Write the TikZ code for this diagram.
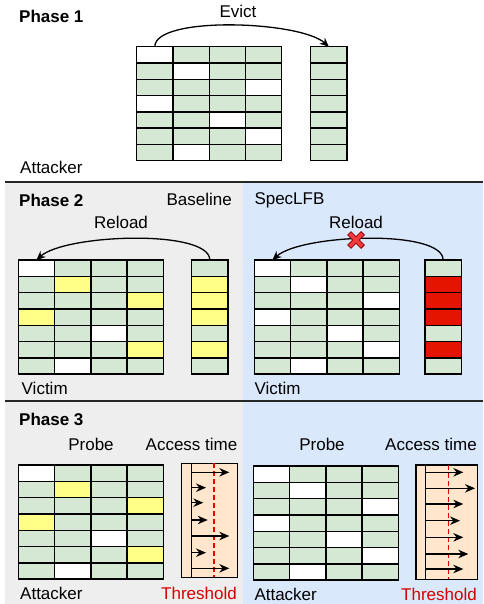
\documentclass[tikz,border=0pt]{standalone}
\usepackage{fontspec}
\setmainfont{Liberation Sans}
\usetikzlibrary{arrows.meta}
\definecolor{cg}{HTML}{D5E8D4}
\definecolor{cw}{HTML}{FFFFFF}
\definecolor{cy}{HTML}{FFFF88}
\definecolor{cr}{HTML}{E51400}
\definecolor{bggray}{HTML}{EEEEEE}
\definecolor{bgblue}{HTML}{DAE8FC}
\definecolor{peach}{HTML}{FFE6CC}
\definecolor{thr}{HTML}{D40000}
\definecolor{xred}{HTML}{F23A3A}
\definecolor{xdark}{HTML}{9A1010}
\tikzset{
  cell/.style={draw=black, line width=1.4pt, rectangle, minimum width=36.25pt,
    minimum height=16.3pt, inner sep=0pt, outer sep=0pt, anchor=north west},
  lbl/.style={font=\fontsize{17}{20}\selectfont, inner sep=0pt, anchor=base west},
  lblc/.style={lbl, anchor=base},
  ttl/.style={lbl, font=\fontsize{17}{20}\selectfont\bfseries},
  arr/.style={draw=black, line width=1.3pt, -{Stealth[length=9pt,width=8pt]}},
  tarr/.style={draw=black, line width=1.3pt, -{Stealth[length=10pt,width=8.5pt]}},
  accbox/.style={draw=black, line width=1.4pt, fill=peach, rectangle, inner sep=0pt,
    outer sep=0pt, anchor=north west},
  sep/.style={draw=black!85, line width=1.5pt},
  thrline/.style={draw=red!90!black, line width=1.3pt, dash pattern=on 5pt off 3pt},
}
\newcommand{\mygrid}[4]{%
  \foreach \cols [count=\r] in {#4} {
    \foreach \cc [count=\c] in \cols {
      \node[cell, fill=\cc] (#1-\r-\c) at ({#2+(\c-1)*36.25},{#3+(\r-1)*16.3}) {};
    }
  }
}
\begin{document}
\begin{tikzpicture}[x=1pt,y=-1pt]
\useasboundingbox (0,0) rectangle (483,604);
% backgrounds
\fill[white] (0,0) rectangle (483,604);
\fill[bggray] (5,182) rectangle (243,604);
\fill[bgblue] (243,182) rectangle (483,604);
\draw[sep] (5,182) -- (483,182);
\draw[sep] (5,401) -- (483,401);

% ---------- Phase 1 ----------
\node[ttl] (t1) at (19,22.7) {Phase 1};
\mygrid{pa}{136.7}{46.7}{{cw,cg,cg,cg},{cg,cw,cg,cg},{cg,cg,cg,cw},{cw,cg,cg,cg},{cg,cg,cw,cg},{cg,cg,cg,cw},{cg,cw,cg,cg}}
\mygrid{pac}{310.7}{46.7}{{cg},{cg},{cg},{cg},{cg},{cg},{cg}}
\draw[arr] (pa-1-1.north) .. controls +(0,-31) and +(-29,-26) .. (pac-1-1.north);
\node[lblc] (evict) at (238,18) {Evict};
\node[lbl] (att1) at (20,173.5) {Attacker};

% ---------- Phase 2 ----------
\node[ttl] (t2) at (19,206) {Phase 2};
\node[lbl, anchor=base east] (base) at (232,205) {Baseline};
\node[lbl] (spec) at (254.3,204) {SpecLFB};
\mygrid{pb}{18.3}{260}{{cw,cg,cg,cg},{cg,cy,cg,cg},{cg,cg,cg,cy},{cy,cg,cg,cg},{cg,cg,cw,cg},{cg,cg,cg,cy},{cg,cw,cg,cg}}
\mygrid{pbc}{191.7}{260}{{cg},{cy},{cy},{cy},{cg},{cy},{cg}}
\draw[arr] (pbc-1-1.north) .. controls +(0,-31) and +(29,-26) .. (pb-1-1.north);
\node[lblc] (rel1) at (121,228.3) {Reload};
\node[lbl] (vic1) at (21.5,394) {Victim};

\mygrid{pr}{254.3}{260}{{cw,cg,cg,cg},{cg,cw,cg,cg},{cg,cg,cg,cw},{cw,cg,cg,cg},{cg,cg,cw,cg},{cg,cg,cg,cw},{cg,cw,cg,cg}}
\mygrid{prc}{425}{260}{{cg},{cr},{cr},{cr},{cg},{cr},{cg}}
\draw[arr] (prc-1-1.north) .. controls +(0,-31) and +(29,-26) .. (pr-1-1.north);
\node[lblc] (rel2) at (356,228.3) {Reload};
\node[lbl] (vic2) at (254.3,394) {Victim};
% red cross
\draw[xdark, line width=5.4pt] (349,233) -- (363,247) (363,233) -- (349,247);
\draw[xred, line width=3.2pt] (349.8,233.8) -- (362.2,246.2) (362.2,233.8) -- (349.8,246.2);

% ---------- Phase 3 ----------
\node[ttl] (t3) at (19,425.7) {Phase 3};
\node[lblc] (probe1) at (91,450.7) {Probe};
\node[lblc] (acc1) at (191.5,450.7) {Access time};
\mygrid{pc}{18.3}{465}{{cw,cg,cg,cg},{cg,cy,cg,cg},{cg,cg,cg,cy},{cy,cg,cg,cg},{cg,cg,cw,cg},{cg,cg,cg,cy},{cg,cw,cg,cg}}
\node[accbox, minimum width=56pt, minimum height=114pt] (boxl) at (181.7,463.3) {};
\draw[line width=1.4pt] (191.7,463.3) -- (191.7,577.3);
\draw[thrline] (214,463.3) -- (214,577.3);
\foreach \yy/\xe in {472.3/229.3, 487.7/206, 502.7/203.3, 520/207.7, 536/229.3, 552.7/206, 568.3/229.3}
  \draw[tarr] (191.7,\yy) -- (\xe,\yy);
\node[lbl] (att2) at (20,599) {Attacker};
\node[lblc, text=thr] (th1) at (199,599) {Threshold};

\node[lblc] (probe2) at (322,450.3) {Probe};
\node[lblc] (acc2) at (431,450.3) {Access time};
\mygrid{pd}{253.3}{466}{{cw,cg,cg,cg},{cg,cw,cg,cg},{cg,cg,cg,cw},{cw,cg,cg,cg},{cg,cg,cw,cg},{cg,cg,cg,cw},{cg,cw,cg,cg}}
\node[accbox, minimum width=61.7pt, minimum height=114.3pt] (boxr) at (416,465) {};
\draw[line width=1.4pt] (425.7,465) -- (425.7,579.3);
\draw[thrline] (448.3,465) -- (448.3,579.3);
\foreach \yy/\xe in {472.3/463.3, 488.3/475, 504/463.3, 520.7/460, 537.3/463.3, 554/468.3, 569/463.3}
  \draw[tarr] (425.7,\yy) -- (\xe,\yy);
\node[lbl] (att3) at (254.3,600) {Attacker};
\node[lblc, text=thr] (th2) at (439,600) {Threshold};
\end{tikzpicture}
\end{document}
